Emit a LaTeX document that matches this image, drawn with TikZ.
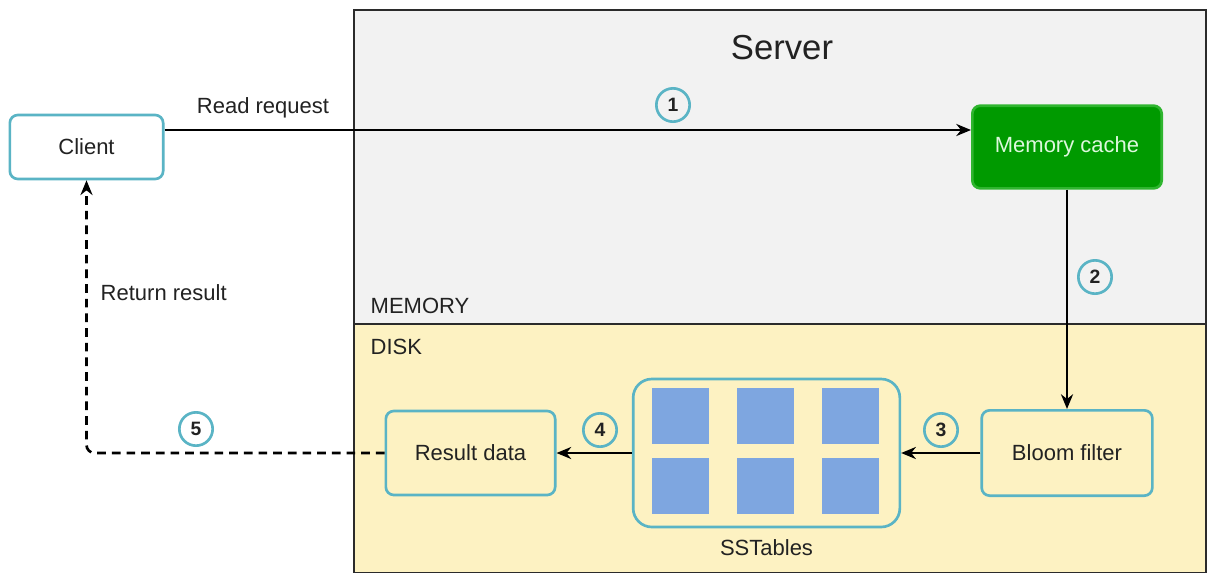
\documentclass[tikz,border=0pt]{standalone}
\usepackage{fontspec}
\setmainfont{Liberation Sans}
\usetikzlibrary{arrows.meta, positioning}
\definecolor{Teal}{HTML}{5AB4C5}
\definecolor{MemGrey}{HTML}{F2F2F2}
\definecolor{DiskYellow}{HTML}{FDF2C2}
\definecolor{Frame}{HTML}{2B2B2B}
\definecolor{Ink}{HTML}{222222}
\definecolor{CacheGreen}{HTML}{009A00}
\definecolor{CacheEdge}{HTML}{2FB52F}
\definecolor{CacheText}{HTML}{DDF8DD}
\definecolor{TableBlue}{HTML}{7EA6E0}
\newcommand{\bodyfont}{\fontsize{16.5}{20}\selectfont}

\begin{document}
\begin{tikzpicture}[x=0.75pt, y=-0.75pt,
    box/.style={draw=Teal, line width=2pt, rounded corners=6pt, text=Ink, font=\bodyfont},
    stepnum/.style={circle, draw=Teal, line width=2pt, minimum size=25pt, inner sep=0pt, text=Ink, font=\fontsize{14.5}{15}\selectfont\bfseries},
    flow/.style={line width=2pt, -{Stealth[length=11pt, width=9pt, inset=3.5pt]}}]
    \useasboundingbox (0, 0) rectangle (1207, 572);
    \fill[white] (0, 0) rectangle (1207, 572);

    % Server panel
    \draw[Frame, fill=MemGrey, line width=1pt] (354, 10) rectangle (1206, 324);
    \draw[Frame, fill=DiskYellow, line width=1pt] (354, 324) rectangle (1206, 573);
    \node[text=Ink, font=\fontsize{26}{30}\selectfont] (server) at (782, 48) {Server};
    \node[anchor=west, text=Ink, font=\bodyfont] (memlbl) at (366, 306) {MEMORY};
    \node[anchor=west, text=Ink, font=\bodyfont] (disklbl) at (366, 347) {DISK};

    % Boxes
    \node[box, minimum width=115pt, minimum height=48pt] (client) at (86.5, 147) {Client};
    \node[box, draw=CacheEdge, fill=CacheGreen, text=CacheText, minimum width=142pt, minimum height=62pt] (cache) at (1067, 147) {Memory cache};
    \node[box, minimum width=128pt, minimum height=64pt] (bloom) at (1067, 453) {Bloom filter};
    \node[box, minimum width=127pt, minimum height=63pt] (result) at (470.5, 453) {Result data};
    \node[box, rounded corners=14pt, minimum width=200pt, minimum height=111pt] (sstables) at (766.5, 453) {};
    \foreach \col in {0,1,2} {
        \foreach \row in {0,1} {
            \fill[TableBlue] (652+85*\col, 388+70*\row) rectangle ++(57, 56);
        }
    }
    \node[text=Ink, font=\bodyfont, below=5pt of sstables] (sslbl) {SSTables};

    % Read path
    \draw[flow] ([yshift=12.75pt]client.east) -- ([yshift=12.75pt]cache.west);
    \node[text=Ink, font=\bodyfont] (readlbl) at (263, 108) {Read request};
    \draw[flow] (cache.south) -- (bloom.north);
    \draw[flow] (bloom.west) -- (sstables.east);
    \draw[flow] (sstables.west) -- (result.east);
    \draw[flow, dashed, dash pattern=on 6.5pt off 4.5pt, rounded corners=6pt] (result.west) -- (client.south |- result.west) -- (client.south);
    \node[anchor=west, text=Ink, font=\bodyfont] (retlbl) at (96, 293) {Return result};

    % Step numbers
    \node[stepnum] (s1) at (673, 105) {1};
    \node[stepnum] (s2) at (1095, 277) {2};
    \node[stepnum] (s3) at (941, 430) {3};
    \node[stepnum] (s4) at (600, 430) {4};
    \node[stepnum] (s5) at (196, 429) {5};
\end{tikzpicture}
\end{document}
